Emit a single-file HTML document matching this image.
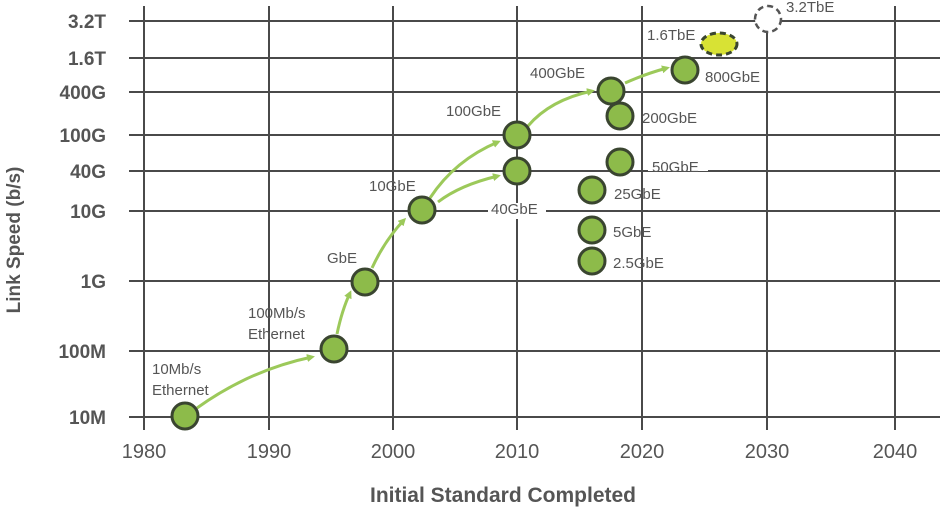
<!DOCTYPE html>
<html><head><meta charset="utf-8"><style>
html,body{margin:0;padding:0;background:#fff;width:940px;height:512px;overflow:hidden}
svg{display:block}
text{font-family:"Liberation Sans",sans-serif}
</style></head><body>
<svg width="940" height="512" viewBox="0 0 940 512" xmlns="http://www.w3.org/2000/svg">
<defs>
<marker id="ah" markerWidth="8" markerHeight="8" refX="5" refY="4" orient="auto" markerUnits="userSpaceOnUse">
<path d="M0,0 L8,4 L0,8 Z" fill="#9cc95a"/></marker>
</defs>
<g stroke="#4a4a4a" stroke-width="2">
<line x1="144" y1="6" x2="144" y2="430"/>
<line x1="269" y1="6" x2="269" y2="430"/>
<line x1="393" y1="6" x2="393" y2="430"/>
<line x1="517" y1="6" x2="517" y2="430"/>
<line x1="642" y1="6" x2="642" y2="430"/>
<line x1="767" y1="6" x2="767" y2="430"/>
<line x1="895" y1="6" x2="895" y2="430"/>
<line x1="129" y1="21" x2="940" y2="21"/>
<line x1="129" y1="58" x2="940" y2="58"/>
<line x1="129" y1="92" x2="940" y2="92"/>
<line x1="129" y1="135" x2="940" y2="135"/>
<line x1="129" y1="171" x2="940" y2="171"/>
<line x1="129" y1="211" x2="940" y2="211"/>
<line x1="129" y1="281" x2="940" y2="281"/>
<line x1="129" y1="351" x2="940" y2="351"/>
<line x1="129" y1="417" x2="940" y2="417"/>
</g>
<g font-size="19" font-weight="bold" fill="#555" text-anchor="end">
<text x="106" y="28">3.2T</text><text x="106" y="65">1.6T</text>
<text x="106" y="99">400G</text><text x="106" y="142">100G</text>
<text x="106" y="178">40G</text><text x="106" y="218">10G</text>
<text x="106" y="288">1G</text><text x="106" y="358">100M</text>
<text x="106" y="424">10M</text>
</g>
<text transform="translate(20,240) rotate(-90)" font-size="19" font-weight="bold" fill="#555" text-anchor="middle">Link Speed (b/s)</text>
<g font-size="20" fill="#555" text-anchor="middle">
<text x="144" y="458">1980</text><text x="269" y="458">1990</text><text x="393" y="458">2000</text>
<text x="517" y="458">2010</text><text x="642" y="458">2020</text><text x="767" y="458">2030</text><text x="895" y="458">2040</text>
</g>
<text x="503" y="502" font-size="21" font-weight="bold" fill="#555" text-anchor="middle">Initial Standard Completed</text>
<rect x="488" y="203" width="58" height="16" fill="#fff"/>
<rect x="648" y="155" width="60" height="16" fill="#fff"/>
<g fill="none" stroke="#9cc95a" stroke-width="3" marker-end="url(#ah)">
<path d="M197,408 Q250,370 312,357"/>
<path d="M337,334 Q342,310 350,293"/>
<path d="M372,268 Q385,240 404,220"/>
<path d="M430,198 Q455,160 498,142"/>
<path d="M438,202 Q460,185 498,176"/>
<path d="M528,126 Q550,100 592,91"/>
<path d="M625,83 Q645,74 667,68"/>
</g>
<g fill="#8dbb4a" stroke="#3a4530" stroke-width="3">
<circle cx="185" cy="416" r="13"/>
<circle cx="334" cy="349" r="13"/>
<circle cx="365" cy="282" r="13"/>
<circle cx="422" cy="210" r="13"/>
<circle cx="517" cy="171" r="13"/>
<circle cx="517" cy="135" r="13"/>
<circle cx="611" cy="91" r="13"/>
<circle cx="620" cy="116" r="13"/>
<circle cx="620" cy="162" r="13"/>
<circle cx="592" cy="190" r="13"/>
<circle cx="592" cy="230" r="13"/>
<circle cx="592" cy="261" r="13"/>
<circle cx="685" cy="70" r="13"/>
</g>
<ellipse cx="719" cy="44" rx="18" ry="11" fill="#d8e234" stroke="#3a4530" stroke-width="3" stroke-dasharray="6,4"/>
<circle cx="768" cy="19" r="13" fill="#fff" stroke="#555" stroke-width="2.5" stroke-dasharray="6,4"/>
<g font-size="15" fill="#555">
<text x="152" y="374">10Mb/s</text><text x="152" y="395">Ethernet</text>
<text x="248" y="318">100Mb/s</text><text x="248" y="339">Ethernet</text>
<text x="327" y="263">GbE</text>
<text x="369" y="191">10GbE</text>
<text x="446" y="116">100GbE</text>
<text x="491" y="214">40GbE</text>
<text x="530" y="78">400GbE</text>
<text x="642" y="123">200GbE</text>
<text x="652" y="172">50GbE</text>
<text x="614" y="199">25GbE</text>
<text x="613" y="237">5GbE</text>
<text x="613" y="268">2.5GbE</text>
<text x="705" y="82">800GbE</text>
<text x="647" y="40">1.6TbE</text>
<text x="786" y="12">3.2TbE</text>
</g>
</svg>
</body></html>
